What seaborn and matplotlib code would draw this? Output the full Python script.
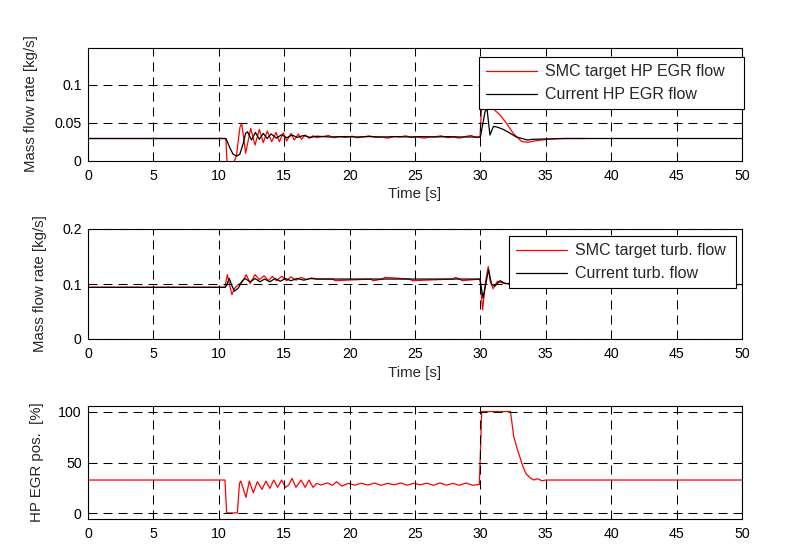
import matplotlib
matplotlib.use("Agg")
import matplotlib.pyplot as plt
import seaborn as sns
import pandas as pd

# ---------------- data ----------------
# Panel 1: HP EGR mass flow [kg/s]
t1_target = [0, 10.5, 10.55, 10.62, 10.75, 11.0, 11.2, 11.35, 11.5, 11.62, 11.75, 11.9, 12.05,
             12.44, 12.77, 13.1, 13.4, 13.71, 14.04, 14.37, 14.63, 14.93, 15.19, 15.52, 15.77,
             16.08, 16.33, 16.59, 16.92, 17.22, 17.48, 17.9, 18.4, 18.8, 19.2, 19.7, 20.2, 20.6,
             21.0, 21.5, 22.0, 22.4, 22.9, 23.4, 23.8, 24.3, 24.7, 25.2, 25.7, 26.1, 26.6, 27.0,
             27.5, 27.9, 28.4, 28.8, 29.3, 29.7, 29.97, 30.1, 30.4, 30.7, 31.0, 31.5, 32.0, 32.5,
             33.15, 33.65, 34.2, 34.7, 35.3, 36.0, 38.0]
q1_target = [0.029, 0.029, 0.026, 0.0, -0.01, -0.008, 0.0, 0.006, 0.028, 0.044, 0.049, 0.03, 0.0095,
             0.0423, 0.0204, 0.041, 0.0235, 0.0388, 0.0248, 0.037, 0.0248, 0.0366, 0.0257, 0.0357, 0.027,
             0.0349, 0.0279, 0.0336, 0.0292, 0.0327, 0.0301, 0.0315, 0.033, 0.030, 0.0315, 0.0305, 0.032, 0.030,
             0.031, 0.0325, 0.0305, 0.031, 0.0295, 0.0315, 0.031, 0.0325, 0.0305, 0.031, 0.0295, 0.031, 0.0315, 0.0325,
             0.030, 0.031, 0.0295, 0.0315, 0.033, 0.030, 0.031, 0.075, 0.082, 0.075, 0.068, 0.060, 0.049, 0.036,
             0.025, 0.024, 0.026, 0.027, 0.0283, 0.029, 0.029]

t1_current = [0, 10.55, 10.86, 11.1, 11.37, 11.6, 11.87, 12.05, 12.2, 12.5, 12.8, 13.1, 13.4, 13.7,
              14.0, 14.4, 14.8, 15.2, 15.6, 16.0, 16.5, 17.0, 17.5, 18.5, 19.5, 20.5, 21.5, 22.5,
              23.5, 24.5, 25.5, 26.5, 27.5, 28.5, 29.5, 30.0, 30.35, 30.5, 30.73, 31.0, 31.3,
              31.75, 32.26, 32.75, 33.6, 34.0, 35.5, 36.5, 50.0]
q1_current = [0.029, 0.029, 0.016, 0.0081, 0.006, 0.008, 0.0226, 0.0358, 0.0379, 0.027, 0.037, 0.028,
              0.0357, 0.029, 0.035, 0.0295, 0.034, 0.030, 0.0335, 0.0305, 0.033, 0.0305, 0.032, 0.031,
              0.0315, 0.031, 0.0315, 0.031, 0.0315, 0.031, 0.0315, 0.031, 0.0315, 0.031, 0.031, 0.031,
              0.064, 0.069, 0.0335, 0.045, 0.044, 0.041, 0.036, 0.031, 0.027, 0.028, 0.0285, 0.029, 0.029]

# Panel 2: turbine mass flow [kg/s]
t2_target = [0, 10.47, 10.65, 11.0, 11.2, 11.5, 11.8, 12.1, 12.4, 12.77, 13.1, 13.46, 13.8, 14.1,
             14.4, 14.8, 15.2, 15.5, 15.9, 16.3, 16.7, 17.1, 17.5, 18.7, 18.9, 21.6, 21.8, 22.5,
             22.7, 24.6, 24.8, 27.9, 28.1, 28.4, 28.6, 29.97, 30.17, 30.4, 30.6, 30.75, 30.97,
             31.3, 31.8, 32.5, 38.0]
q2_target = [0.094, 0.094, 0.117, 0.0806, 0.092, 0.099, 0.104, 0.117, 0.101, 0.117, 0.108, 0.115, 0.106,
             0.114, 0.106, 0.114, 0.106, 0.113, 0.107, 0.112, 0.108, 0.111, 0.109, 0.109, 0.106, 0.109,
             0.106, 0.109, 0.112, 0.109, 0.106, 0.109, 0.112, 0.109, 0.106, 0.109, 0.053, 0.105, 0.132,
             0.105, 0.0915, 0.105, 0.101, 0.100, 0.099]

t2_current = [0, 10.5, 10.6, 10.8, 11.0, 11.2, 11.5, 11.8, 12.0, 12.4, 12.77, 13.15, 13.5, 13.9, 14.3,
              14.7, 15.1, 15.5, 16.0, 16.5, 17.0, 17.5, 20.0, 25.0, 29.97, 30.2, 30.45, 30.62, 30.85,
              31.1, 31.5, 31.9, 33.0, 50.0]
q2_current = [0.094, 0.094, 0.098, 0.110, 0.097, 0.087, 0.093, 0.106, 0.110, 0.104, 0.110, 0.104, 0.109,
              0.104, 0.110, 0.105, 0.110, 0.106, 0.110, 0.107, 0.110, 0.109, 0.109, 0.109, 0.109, 0.0745,
              0.105, 0.126, 0.100, 0.096, 0.106, 0.101, 0.100, 0.099]

# Panel 3: HP EGR valve position [%]
t3 = [0, 10.47, 10.6, 11.42, 11.58, 11.68, 12.08, 12.33, 12.64, 12.95, 13.3, 13.6, 13.9, 14.2, 14.5,
      14.8, 15.1, 15.35, 15.6, 15.9, 16.3, 16.6, 16.9, 17.2, 17.5, 17.8, 18.3, 18.7, 19.0, 19.4,
      19.9, 20.4, 20.9, 21.4, 21.9, 22.4, 22.9, 23.4, 23.9, 24.4, 24.9, 25.4, 25.9, 26.4, 26.9,
      27.4, 27.9, 28.4, 28.9, 29.4, 29.92, 30.1, 32.3, 32.55, 32.8, 33.05, 33.25, 33.5, 33.85,
      34.1, 34.35, 34.7, 35.0, 50.0]
pos3 = [32.8, 32.8, 0.5, 0.5, 29.5, 31.8, 15.7, 31.8, 20.3, 31.2, 23.6, 31.8, 24.6, 32.8, 25.6,
        32.8, 25.6, 28.0, 34.4, 25.6, 32.8, 25.6, 32.8, 25.6, 29.5, 27.9, 29.9, 27.6, 31.2, 26.9,
        29.5, 27.8, 29.6, 27.9, 29.8, 27.6, 29.5, 28.0, 29.9, 27.7, 29.6, 28.0, 29.7, 27.6, 29.9,
        27.8, 29.5, 27.6, 29.8, 27.7, 28.5, 100, 100, 75.4, 64.0, 54.0, 45.9, 38.7, 34.4,
        32.8, 34.1, 32.1, 32.8, 32.8]

time_ticks = [0, 5, 10, 15, 20, 25, 30, 35, 40, 45, 50]

# ---------------- style ----------------
sns.set_style("white")
plt.rcParams["font.family"] = ["Liberation Sans", "DejaVu Sans"]
plt.rcParams["lines.scale_dashes"] = False
FS_TICK = 10.2
FS_LAB = 10.8
FS_LEG = 11.5

W, H = 791, 559
fig = plt.figure(figsize=(W / 100, H / 100), dpi=100)
fig.patch.set_facecolor("white")

AX_L, AX_R = 88, 742

def axes_at(top, bottom):
    return fig.add_axes([AX_L / W, 1 - bottom / H, (AX_R - AX_L) / W, (bottom - top) / H])

P1 = (47.5, 160.5)
P2 = (229, 339)
P3 = (406, 518.5)
ax1 = axes_at(*P1)
ax2 = axes_at(*P2)
ax3 = axes_at(*P3)

GRID_DASH = (0, (6.5, 4.3))

def style(ax, yticks, ylabels, ylim, ylab, xlab, labx):
    ax.set_xlim(0, 50)
    ax.set_ylim(*ylim)
    ax.set_xticks(time_ticks)
    ax.set_xticklabels([str(v) for v in time_ticks], fontsize=FS_TICK)
    ax.set_yticks(yticks)
    ax.set_yticklabels(ylabels, fontsize=FS_TICK)
    ax.grid(True, color="black", linestyle=GRID_DASH, linewidth=0.75)
    ax.set_axisbelow(False)
    for s in ax.spines.values():
        s.set_color("black")
        s.set_linewidth(0.8)
        s.set_visible(True)
    ax.tick_params(direction="in", length=4, width=0.7, top=True, right=True, colors="black")
    ax.tick_params(axis="x", pad=6)
    ax.tick_params(axis="y", pad=4.5)
    ax.set_ylabel(ylab, fontsize=FS_LAB)
    ax.yaxis.set_label_coords(labx, 0.5)
    if xlab:
        ax.set_xlabel(xlab, fontsize=FS_LAB, labelpad=3)
    else:
        ax.set_xlabel("")

def px_x(px):
    return (px - AX_L) / (AX_R - AX_L)

def px_y(py, panel):
    top, bottom = panel
    return (bottom - py) / (bottom - top)

# Panel 1
df1a = pd.DataFrame({"t": t1_target, "q": q1_target})
df1b = pd.DataFrame({"t": t1_current, "q": q1_current})
sns.lineplot(data=df1a, x="t", y="q", ax=ax1, color="#ff0000", lw=0.9, sort=False,
             estimator=None, label="SMC target HP EGR flow")
sns.lineplot(data=df1b, x="t", y="q", ax=ax1, color="black", lw=0.9, sort=False,
             estimator=None, label="Current HP EGR flow")
style(ax1, [0, 0.05, 0.1], ["0", "0.05", "0.1"], (0, 0.149), "Mass flow rate [kg/s]", "Time [s]",
      px_x(38))

# Panel 2
df2a = pd.DataFrame({"t": t2_target, "q": q2_target})
df2b = pd.DataFrame({"t": t2_current, "q": q2_current})
sns.lineplot(data=df2a, x="t", y="q", ax=ax2, color="#ff0000", lw=0.9, sort=False,
             estimator=None, label="SMC target turb. flow")
sns.lineplot(data=df2b, x="t", y="q", ax=ax2, color="black", lw=0.9, sort=False,
             estimator=None, label="Current turb. flow")
style(ax2, [0, 0.1, 0.2], ["0", "0.1", "0.2"], (0, 0.2), "Mass flow rate [kg/s]", "Time [s]",
      px_x(47))

# Panel 3
df3 = pd.DataFrame({"t": t3, "p": pos3})
sns.lineplot(data=df3, x="t", y="p", ax=ax3, color="#ff0000", lw=0.9, sort=False,
             estimator=None, legend=False)
style(ax3, [0, 50, 100], ["0", "50", "100"], (-5, 105.5), "HP EGR pos.  [%]", None, px_x(43.5))

def legend(ax, left, right, top, bottom, panel):
    x0 = px_x(left)
    w = px_x(right) - x0
    y0 = px_y(bottom, panel)
    h = px_y(top, panel) - y0
    lg = ax.legend(loc="upper left", bbox_to_anchor=(x0, y0, w, h), mode="expand",
                   fontsize=FS_LEG, frameon=True, fancybox=False, framealpha=1, edgecolor="black",
                   borderpad=0.45, handlelength=3.2, handletextpad=0.5, labelspacing=0.5,
                   borderaxespad=0)
    lg.get_frame().set_linewidth(0.8)
    for h_ in lg.get_lines():
        h_.set_linewidth(0.9)
    return lg

legend(ax1, 479, 744, 57, 109, P1)
legend(ax2, 509, 736, 236, 288, P2)

fig.savefig("out.png", dpi=100, facecolor="white")
